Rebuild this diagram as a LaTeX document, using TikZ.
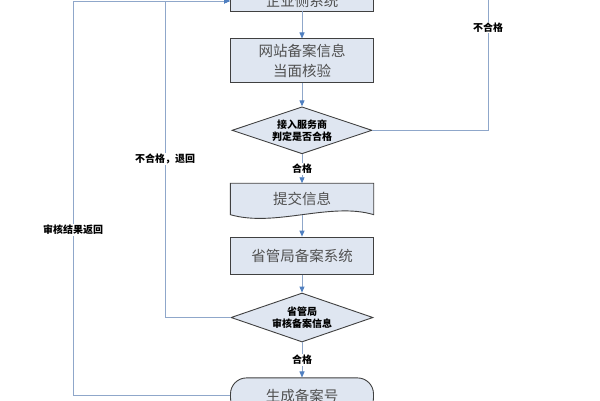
\documentclass[tikz,border=0pt]{standalone}
\usepackage{fontspec}
\setmainfont{Noto Sans CJK SC}
\usetikzlibrary{shapes.geometric, arrows.meta, positioning, calc, backgrounds}
\definecolor{boxFill}{HTML}{DFE6F1}
\definecolor{boxEdge}{HTML}{404040}
\definecolor{boxText}{HTML}{505050}
\definecolor{lineBlue}{HTML}{8FA7CA}
\definecolor{tipBlue}{HTML}{4F7FC0}

\begin{document}
\begin{tikzpicture}[
    x=1pt, y=-1pt,
    procbox/.style={rectangle, draw=boxEdge, fill=boxFill, line width=0.9pt, minimum width=143pt, align=center, text=boxText, font=\fontsize{14.5}{20}\selectfont, inner sep=2pt},
    docbox/.style={rectangle, minimum width=143pt, minimum height=31pt, text=boxText, font=\fontsize{14.5}{20}\selectfont},
    termbox/.style={procbox, rounded corners=16pt, minimum height=36pt},
    decision/.style={diamond, aspect=3, draw=boxEdge, fill=boxFill, line width=0.9pt, minimum width=140pt, minimum height=47pt, inner sep=0pt, align=center, font=\bfseries\fontsize{10}{12}\selectfont},
    link/.style={draw=lineBlue, line width=0.9pt},
    flow/.style={link, -{Triangle[length=6pt, width=5pt, color=tipBlue]}},
    tag/.style={fill=white, inner sep=1pt, font=\bfseries\fontsize{10}{11}\selectfont}
]
\useasboundingbox (0,0) rectangle (600,400);

% top system (cut by the frame)
\node[procbox, minimum height=20pt] (sys) at (302,1) {企业侧系统};

% checks
\node[procbox, minimum height=44pt, below=27pt of sys] (verify) {网站备案信息\\当面核验};
\node[decision, below=23pt of verify] (check) {接入服务商\\判定是否合格};

% submit document
\node[docbox, below=29pt of check] (submit) {提交信息};
\begin{scope}[on background layer]
\draw[draw=boxEdge, fill=boxFill, line width=0.9pt] (submit.north west) -- (submit.north east) -- (submit.south east)
    .. controls ($(submit.south)+(28,-13)$) and ($(submit.south)+(-27,13)$) .. (submit.south west) -- cycle;
\end{scope}

% provincial side
\node[procbox, minimum height=37pt, below=22pt of submit] (prov) {省管局备案系统};
\node[decision, minimum width=142pt, minimum height=49pt, below=18pt of prov] (review) {省管局\\审核备案信息};
\node[termbox, below=35pt of review] (number) {生成备案号};

\coordinate (upR) at (488,-30);
\coordinate (backA) at (165,1);
\coordinate (backB) at (73,1);

% main flow
\draw[flow] (sys) -- (verify);
\draw[flow] (verify) -- (check);
\draw[flow] (check) -- node[tag] {合格} (submit);
\draw[flow] (submit.south) -- (prov);
\draw[flow] (prov) -- (review);
\draw[flow] (review) -- node[tag] {合格} (number);

% loops back
\draw[link] (check.east) -| node[tag, pos=0.82] {不合格} (upR);
\draw[flow] (review.west) -| node[tag, pos=0.75] {不合格，退回} (backA) -- (sys.west);
\draw[flow] (number.west) -| node[tag, pos=0.71] {审核结果返回} (backB) -- (sys.west);

\end{tikzpicture}
\end{document}
